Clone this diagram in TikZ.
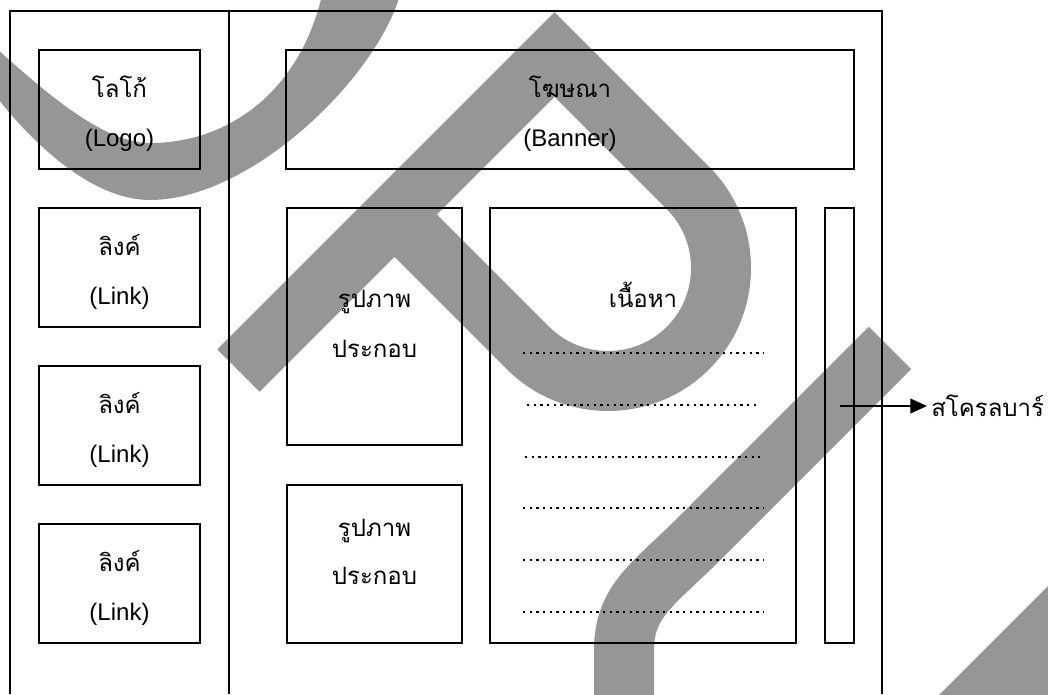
\documentclass[tikz,border=0pt]{standalone}
\usepackage{fontspec}
\setmainfont{Liberation Sans}
\newfontfamily\thaifont[Script=Thai]{Loma}
\usetikzlibrary{arrows.meta,positioning,calc}
\definecolor{wmgray}{RGB}{150,150,150}

\begin{document}
\begin{tikzpicture}[
  x=0.75pt, y=-0.75pt,
  box/.style={draw, line width=1.3pt, inner sep=0pt, outer sep=0pt},
  wh/.style 2 args={minimum width=#1*0.75pt, minimum height=#2*0.75pt},
  th/.style={font=\thaifont\fontsize{18}{22}\selectfont, inner sep=0pt, anchor=base},
  en/.style={font=\fontsize{18}{22}\selectfont, inner sep=0pt, anchor=base},
  pageframe/.style={line width=1.3pt},
  dotrow/.style={line width=1.8pt, dash pattern=on 1.8pt off 3.2pt},
  wm/.style={draw=wmgray, line width=45pt, line join=miter},
  arrow/.style={-{Triangle[length=12.5pt,width=11pt]}, line width=1.5pt}
]
\useasboundingbox (0,0) rectangle (1048,694);

% watermark behind the layout
\begin{scope}
  \clip (0,0) rectangle (1048,694);
  \fill[wmgray] (-5,47) .. controls (50,97) and (105,143) .. (150,143)
    .. controls (230,143) and (300,90) .. (322,-5) -- (400,-5)
    .. controls (375,80) and (250,200) .. (150,200)
    .. controls (90,200) and (30,140) .. (-5,95) -- cycle;
  \draw[wm] (238.5,370.5) -- (554.5,54.5) -- (688,188)
    .. controls (732,232) and (732,304) .. (688,348)
    .. controls (644,392) and (572,392) .. (528,348) -- (394.5,214.5);
  \draw[wm] (624,720) -- (624,650) .. controls (624,600) and (655,583) .. (700,538) -- (890,348);
  \fill[wmgray] (936,698) -- (1052,582) -- (1052,698) -- cycle;
\end{scope}

% page frame
\draw[pageframe] (10,694) -- (10,11) -- (882,11) -- (882,694);
\draw[pageframe] (229,11) -- (229,694);

% left column
\node[box, wh={161}{119}] (logo) at (119.5,109.5) {};
\node[th] (logoth) at ($(logo.north)+(0,47)$) {โลโก้};
\node[en] (logoen) at ($(logo.north)+(0,96)$) {(Logo)};
\node[box, wh={161}{119}, below=29.25pt of logo] (link1) {};
\node[box, wh={161}{119}, below=29.25pt of link1] (link2) {};
\node[box, wh={161}{119}, below=29.25pt of link2] (link3) {};
\foreach \i in {1,2,3} {
  \node[th] (linkth\i) at ($(link\i.north)+(0,47)$) {ลิงค์};
  \node[en] (linken\i) at ($(link\i.north)+(0,96)$) {(Link)};
}

% banner
\node[box, wh={568}{119}] (banner) at (570,109.5) {};
\node[th] (bannerth) at ($(banner.north)+(0,47)$) {โฆษณา};
\node[en] (banneren) at ($(banner.north)+(0,96)$) {(Banner)};

% pictures
\node[box, wh={175}{237}] (pic1) at (374.5,326.5) {};
\node[box, wh={175}{158}, below=30pt of pic1] (pic2) {};
\node[th] (picth1a) at ($(pic1.north)+(0,99)$) {รูปภาพ};
\node[th] (picth1b) at ($(pic1.north)+(0,149)$) {ประกอบ};
\node[th] (picth2a) at ($(pic2.north)+(0,51)$) {รูปภาพ};
\node[th] (picth2b) at ($(pic2.north)+(0,99)$) {ประกอบ};

% content and scroll bar
\node[box, wh={306}{435}] (content) at (643,425.5) {};
\node[th] (contentth) at ($(content.north)+(0,99)$) {เนื้อหา};
\foreach \y/\a/\b in {353/523/764, 405/527/760, 457/525/760, 508/523/764, 560/523/764, 612/523/764}
  \draw[dotrow] (\a,\y) -- (\b,\y);
\node[box, wh={29}{435}, right=21.75pt of content] (sbar) {};
\node[th, anchor=west] (sbarlabel) at (931,406) {สโครลบาร์};
\draw[arrow, shorten >=3pt] (sbarlabel.west -| sbar.center) -- (sbarlabel.west);
\end{tikzpicture}
\end{document}
